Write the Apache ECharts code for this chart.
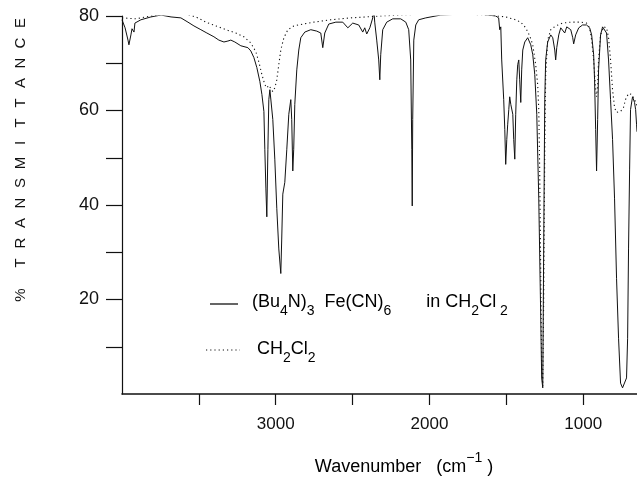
<!DOCTYPE html>
<html>
<head>
<meta charset="utf-8">
<script src="https://cdn.jsdelivr.net/npm/echarts@6/dist/echarts.min.js"></script>
<style>
html,body{margin:0;padding:0;background:#fff;}
#chart{width:637px;height:477px;}
</style>
</head>
<body>
<div id="chart"></div>
<script>
// ---- data ----
// Sample: (Bu4N)3 Fe(CN)6 in CH2Cl2  (wavenumber cm-1, %T)
var sampleWn = [4000,3980,3961,3955,3942,3935,3922,3916,3877,3812,3747,3681,3617,3571,3532,3487,3448,3402,3370,3337,3311,3292,3266,3227,3181,3162,3142,3123,3103,3090,3077,3071,3064,3058,3051,3045,3038,3032,3019,3006,2993,2980,2967,2961,2954,2941,2928,2915,2902,2896,2889,2883,2876,2863,2850,2837,2811,2772,2733,2707,2694,2681,2655,2609,2564,2531,2499,2460,2434,2421,2408,2388,2369,2362,2356,2343,2330,2323,2317,2304,2278,2239,2187,2154,2135,2122,2115,2112,2109,2102,2089,2070,2024,1927,1796,1666,1569,1550,1543,1536,1530,1517,1510,1504,1497,1491,1484,1478,1471,1465,1458,1452,1445,1439,1432,1426,1419,1413,1406,1400,1393,1380,1361,1341,1328,1315,1302,1289,1276,1270,1263,1257,1250,1244,1231,1211,1198,1185,1179,1172,1159,1146,1133,1120,1107,1094,1081,1068,1062,1049,1029,1004,978,958,945,932,926,919,913,906,900,887,874,861,848,835,822,809,796,783,770,757,744,731,718,711,705,698,692,679,666,659,653,650];
var sampleT  = [79.2,77.5,74.9,73.9,76.0,77.3,76.6,78.5,79.2,79.8,80.2,79.8,79.6,78.7,77.9,77.1,76.4,75.6,74.9,74.5,74.7,74.9,74.5,73.7,73.3,72.6,71.2,69.1,66.1,63.4,59.8,51.8,43.4,37.5,51.8,62.3,64.4,64.0,58.1,49.7,39.2,30.7,25.5,32.8,42.3,44.8,51.8,59.2,62.3,58.1,47.2,51.8,61.3,68.6,72.8,75.4,76.6,77.1,76.8,76.4,73.3,76.4,78.3,78.7,78.7,77.5,78.5,78.1,76.6,77.5,76.2,77.5,79.6,81.3,78.7,74.9,70.7,66.5,71.8,77.1,78.7,79.4,79.4,78.7,77.1,70.7,51.8,39.8,58.1,74.9,78.1,79.2,79.6,80.2,80.4,80.4,80.0,79.6,77.1,77.7,70.7,62.3,56.0,48.6,53.9,57.1,60.2,62.9,61.3,61.7,59.2,53.9,49.7,59.2,66.5,69.7,70.7,66.5,61.7,68.6,72.8,74.5,75.4,73.9,71.8,67.6,59.2,41.3,16.0,3.4,1.3,30.7,62.3,70.7,74.5,76.0,75.4,72.8,70.7,73.3,76.0,77.5,77.1,76.4,77.7,77.5,77.1,75.4,74.1,76.0,77.5,78.1,78.1,77.5,76.0,71.8,66.5,56.0,47.2,58.1,68.6,76.0,77.7,78.1,76.4,70.7,62.3,53.9,41.3,24.4,11.8,2.3,1.3,1.7,3.4,11.8,30.7,47.6,60.2,62.9,61.7,60.2,57.1,55.5];
// Solvent: CH2Cl2
var solventWn = [4000,3909,3812,3714,3584,3519,3454,3389,3324,3259,3207,3162,3129,3110,3090,3071,3058,3045,3032,3019,3006,2993,2980,2967,2947,2921,2882,2824,2752,2642,2512,2317,2057,1796,1601,1504,1439,1406,1374,1348,1328,1309,1296,1289,1283,1276,1270,1263,1257,1250,1244,1231,1211,1179,1133,1081,1016,978,958,945,932,919,913,906,900,887,867,848,835,822,809,796,783,757,738,725,705,685,666,650];
var solventT  = [79.6,79.4,80.0,80.4,80.4,79.8,78.7,77.9,77.1,76.4,75.6,74.3,72.4,70.3,67.6,65.5,64.8,65.3,65.5,64.0,64.8,66.5,69.7,72.8,75.4,77.1,77.9,78.3,78.7,79.2,79.6,80.0,80.4,80.4,80.2,79.8,79.2,78.7,77.5,75.8,73.9,69.7,65.5,60.2,47.6,24.4,5.5,1.7,20.2,51.8,67.6,74.9,77.1,77.9,78.5,78.7,78.7,78.5,77.5,74.9,70.7,64.4,62.9,65.3,70.7,76.0,77.7,77.5,75.4,70.7,64.4,60.6,59.6,59.8,60.6,62.3,63.6,63.4,62.3,61.0];
// ticks
var xTicks = [3500,3000,2500,2000,1500,1000];
var xLabels = [3000,2000,1000];
var yTicks = [10,20,30,40,50,60,70,80];
var yLabels = [20,40,60,80];

function pairs(xs, ys){ return xs.map(function(x,i){ return [x, ys[i]]; }); }

var FONT = 'Liberation Sans, Arial, sans-serif';
var chart = echarts.init(document.getElementById('chart'), null, {renderer:'canvas'});

var yTitle = [];
var letters = 'TRANSMITTANCE'.split('');
letters.forEach(function(ch, i){
  yTitle.push({type:'text', x:21, y:263 - i*20, rotation:Math.PI/2,
    style:{text:ch, font:'15px '+FONT, fill:'#111', align:'center', verticalAlign:'middle'}});
});
yTitle.push({type:'text', x:21, y:295, rotation:Math.PI/2,
  style:{text:'%', font:'15px '+FONT, fill:'#111', align:'center', verticalAlign:'middle'}});

var richStyles = {
  n:{fontSize:18, fontFamily:FONT, color:'#111', lineHeight:32},
  s:{fontSize:14, fontFamily:FONT, color:'#111', verticalAlign:'bottom'}
};

chart.setOption({
  animation:false,
  backgroundColor:'#fff',
  grid:{left:122, right:0, top:16, bottom:83, containLabel:false},
  xAxis:{type:'value', min:650, max:4000, inverse:true,
    axisLine:{show:true, onZero:false, lineStyle:{color:'#111', width:1.6}},
    axisTick:{show:true, inside:false, length:11, customValues:xTicks, lineStyle:{color:'#111', width:1.2}},
    axisLabel:{show:true, customValues:xLabels, margin:22, fontSize:17, fontFamily:FONT, color:'#111',
      formatter:function(v){ return String(v); }},
    splitLine:{show:false}},
  yAxis:{type:'value', min:0, max:80,
    axisLine:{show:true, onZero:false, lineStyle:{color:'#111', width:1.2}},
    axisTick:{show:true, inside:false, length:16, customValues:yTicks, lineStyle:{color:'#111', width:1.2}},
    axisLabel:{show:true, customValues:yLabels, margin:23, fontSize:18, fontFamily:FONT, color:'#111',
      formatter:function(v){ return String(v); }},
    splitLine:{show:false}},
  series:[
    {type:'line', name:'CH2Cl2', data:pairs(solventWn, solventT), showSymbol:false, smooth:false,
      lineStyle:{color:'#111', width:1.1, type:[1.2,3]}, z:2},
    {type:'line', name:'sample', data:pairs(sampleWn, sampleT), showSymbol:false, smooth:false,
      lineStyle:{color:'#111', width:1}, z:3}
  ],
  graphic: yTitle.concat([
    {type:'line', shape:{x1:210, y1:304, x2:238, y2:304}, style:{stroke:'#111', lineWidth:1.3}},
    {type:'line', shape:{x1:206, y1:350, x2:240, y2:350}, style:{stroke:'#111', lineWidth:1.2, lineDash:[1.2,3]}},
    {type:'text', x:252, y:302, style:{
      text:'{n|(Bu}{s|4}{n|N)}{s|3}{n|  Fe(CN)}{s|6}{n|       in CH}{s|2}{n|Cl}{s| 2}',
      rich:richStyles, verticalAlign:'middle', align:'left'}},
    {type:'text', x:257, y:349, style:{
      text:'{n|CH}{s|2}{n|Cl}{s|2}',
      rich:richStyles, verticalAlign:'middle', align:'left'}},
    {type:'text', x:404, y:467, style:{
      text:'{n|Wavenumber   (cm}{p|\u22121}{n| )}',
      rich:{n:{fontSize:18, fontFamily:FONT, color:'#111', lineHeight:32},
            p:{fontSize:14, fontFamily:FONT, color:'#111', verticalAlign:'top'}},
      verticalAlign:'middle', align:'center'}}
  ])
});
</script>
</body>
</html>
